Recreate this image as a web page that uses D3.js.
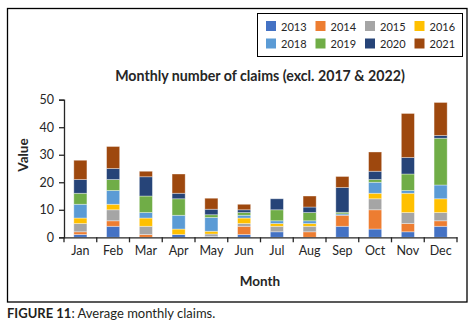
<!DOCTYPE html>
<html>
<head>
<meta charset="utf-8">
<script src="https://cdn.jsdelivr.net/npm/d3@7"></script>
<style>
  body { margin: 0; background: #fff; }
  text { font-family: Lato, "Open Sans", sans-serif; fill: #262626; }
</style>
</head>
<body>
<svg id="drawing_region"></svg>
<script>
const months = ['Jan','Feb','Mar','Apr','May','Jun','Jul','Aug','Sep','Oct','Nov','Dec'];
const years = ['2013','2014','2015','2016','2018','2019','2020','2021'];
const colors = ['#4472C4','#ED7D31','#A5A5A5','#FFC000','#5B9BD5','#70AD47','#264478','#9E480E'];

const y2013 = [1, 4, 0, 1, 0.3, 1, 2, 0, 4, 3, 2, 4];
const y2014 = [1, 2, 1, 0, 0, 3, 0, 2, 4, 7, 3, 2];
const y2015 = [3, 4, 3, 0, 0.9, 1, 2, 2, 0, 4, 4, 3];
const y2016 = [2, 2, 3, 2, 1, 2, 1, 1, 0, 2, 7, 5];
const y2018 = [5, 5, 2, 5, 5, 1, 1, 1, 0.5, 4, 1, 5];
const y2019 = [4, 4, 6, 6, 1, 1, 4, 3, 0.6, 1, 6, 17];
const y2020 = [5, 4, 7, 2, 2, 1, 4, 2, 9, 3, 6, 1];
const y2021 = [7, 8, 2, 7, 4, 2, 0, 4, 4, 7, 16, 12];
const yTicks = [0, 10, 20, 30, 40, 50];

const series = [y2013, y2014, y2015, y2016, y2018, y2019, y2020, y2021];
const data = months.map((m, i) => {
    const row = { month: m };
    years.forEach((yr, j) => { row[yr] = series[j][i]; });
    return row;
});

const svg = d3.select('#drawing_region')
    .attr('width', 473)
    .attr('height', 334);

// outer frame
svg.append('rect')
    .attr('x', 7.5).attr('y', 8.5)
    .attr('width', 459.5).attr('height', 293.5)
    .attr('fill', 'none').attr('stroke', '#000').attr('stroke-width', 1.3);

const margin = { left: 64, top: 99.7 };
const inner_width = 457 - 64;
const inner_height = 237.3 - 99.7;

const chart = svg.append('g')
    .attr('transform', `translate(${margin.left}, ${margin.top})`);

const xscale = d3.scaleBand()
    .domain(months)
    .range([0, inner_width])
    .paddingInner(0.6)
    .paddingOuter(0.3);

const yscale = d3.scaleLinear()
    .domain([0, 50])
    .range([inner_height, 0]);

const stacked = d3.stack().keys(years)(data);

chart.selectAll('g.layer')
    .data(stacked)
    .join('g')
    .attr('class', 'layer')
    .attr('fill', (d, i) => colors[i])
    .selectAll('rect')
    .data(d => d)
    .join('rect')
    .attr('x', d => xscale(d.data.month))
    .attr('y', d => yscale(d[1]))
    .attr('width', xscale.bandwidth())
    .attr('height', d => yscale(d[0]) - yscale(d[1]))
    .attr('stroke', '#fff')
    .attr('stroke-opacity', 0.45)
    .attr('stroke-width', 0.8);

// y axis
const yaxis = d3.axisLeft(yscale).tickValues(yTicks).tickSize(5).tickPadding(5);
const yg = chart.append('g').call(yaxis);
yg.select('.domain').attr('stroke', '#262626').attr('stroke-width', 1.3);
yg.selectAll('.tick line').attr('stroke', '#262626').attr('stroke-width', 1.3);
yg.selectAll('text').attr('font-size', 12.5).attr('font-family', 'Lato, sans-serif').attr('fill', '#262626');

// x axis: labels at band centres, ticks on band boundaries
const xaxis = d3.axisBottom(xscale).tickSize(0).tickPadding(9);
const xg = chart.append('g')
    .attr('transform', `translate(0, ${inner_height})`)
    .call(xaxis);
xg.select('.domain').attr('stroke', '#262626').attr('stroke-width', 1.3);
xg.selectAll('text').attr('font-size', 12.5).attr('font-family', 'Lato, sans-serif').attr('fill', '#262626');

const step = xscale.step();
const bounds = months.map(m => xscale(m) - step * xscale.paddingInner() / 2).concat([inner_width]);
bounds[0] = 0;
xg.selectAll('line.bound')
    .data(bounds)
    .join('line')
    .attr('class', 'bound')
    .attr('x1', d => d).attr('x2', d => d)
    .attr('y1', 0).attr('y2', 5)
    .attr('stroke', '#262626').attr('stroke-width', 1.3);

// titles
svg.append('text')
    .attr('x', 260).attr('y', 81)
    .attr('text-anchor', 'middle')
    .attr('font-size', 14.2).attr('font-weight', 'bold')
    .text('Monthly number of claims (excl. 2017 & 2022)');

svg.append('text')
    .attr('x', 260).attr('y', 286)
    .attr('text-anchor', 'middle')
    .attr('font-size', 13.5).attr('font-weight', 'bold')
    .text('Month');

svg.append('text')
    .attr('transform', 'translate(28, 155) rotate(-90)')
    .attr('text-anchor', 'middle')
    .attr('font-size', 13.5).attr('font-weight', 'bold')
    .text('Value');

// legend
svg.append('rect')
    .attr('x', 257.5).attr('y', 13.5)
    .attr('width', 205).attr('height', 43)
    .attr('fill', '#fff').attr('stroke', '#000').attr('stroke-width', 1);

const legend = svg.append('g');
const item = legend.selectAll('g')
    .data(years)
    .join('g')
    .attr('transform', (d, i) => `translate(${266 + (i % 4) * 49.5}, ${21 + Math.floor(i / 4) * 17.5})`);
item.append('rect')
    .attr('width', 10).attr('height', 10)
    .attr('fill', (d, i) => colors[i]);
item.append('text')
    .attr('x', 15).attr('y', 9.5)
    .attr('font-size', 11)
    .text(d => d);

// caption
const cap = svg.append('text')
    .attr('x', 7).attr('y', 318)
    .attr('font-size', 13)
    .style('fill', '#231f20');
cap.append('tspan').attr('font-weight', 'bold').text('FIGURE 11');
cap.append('tspan').text(': Average monthly claims.');
</script>
</body>
</html>
